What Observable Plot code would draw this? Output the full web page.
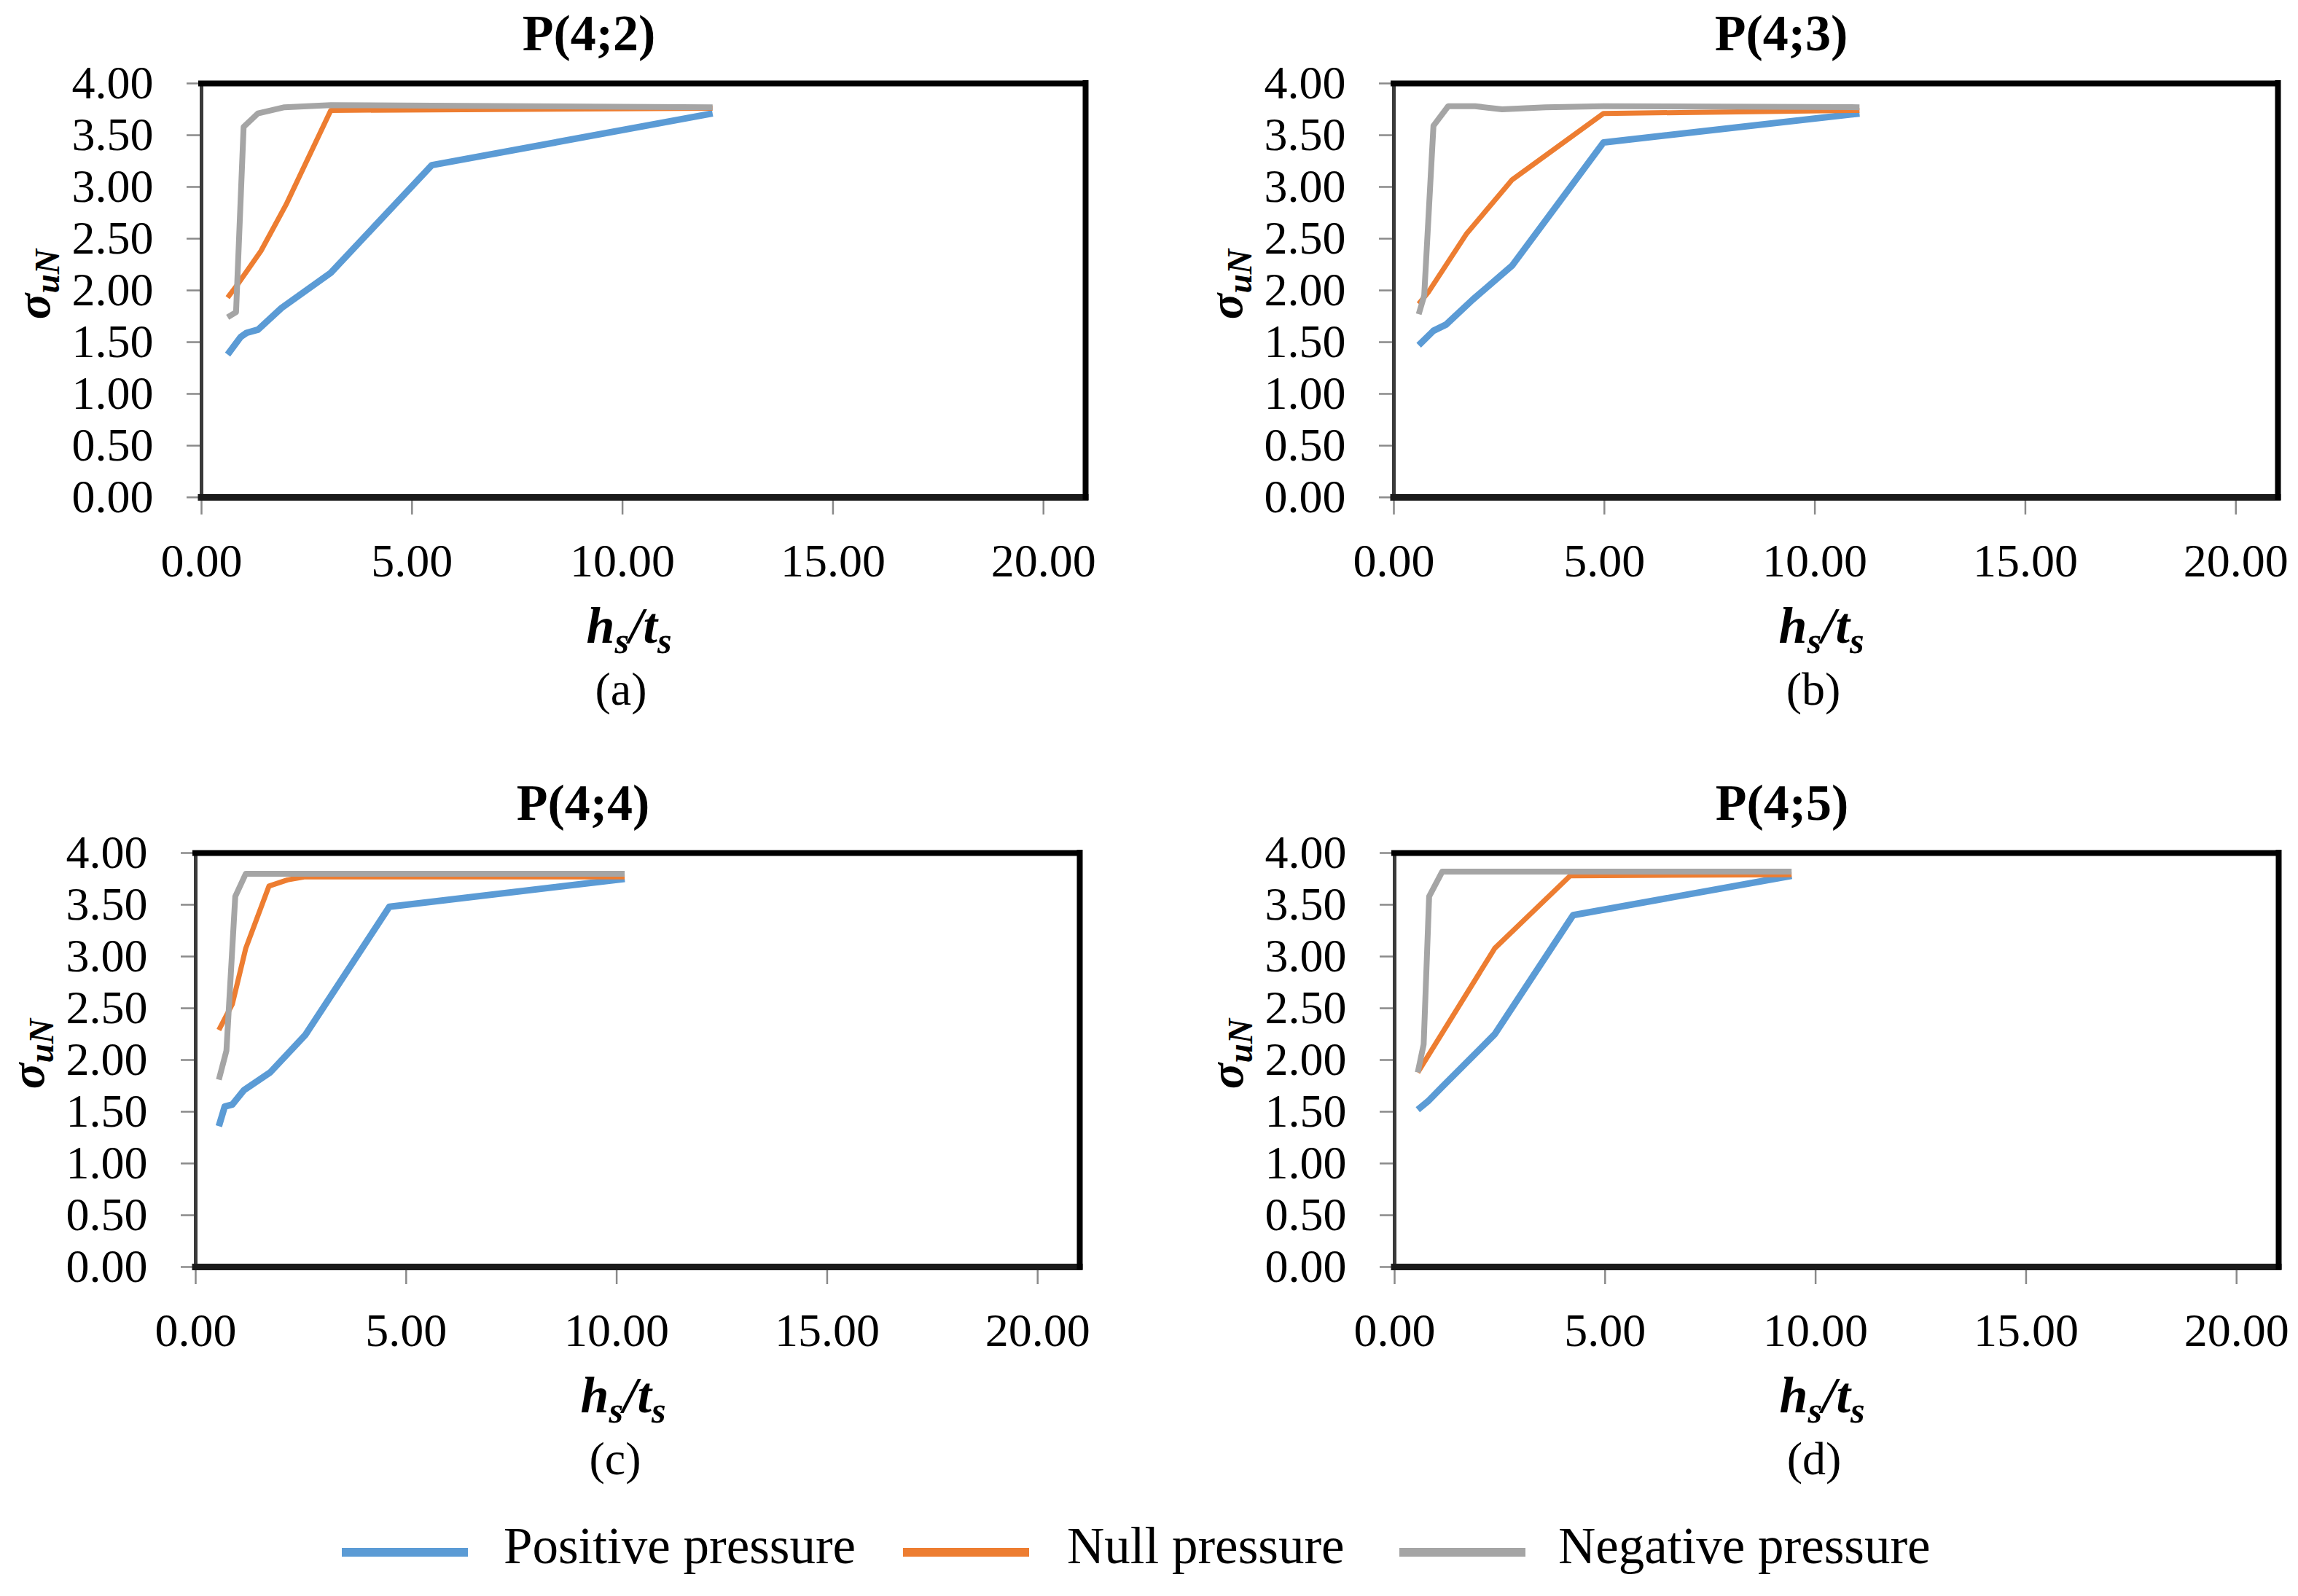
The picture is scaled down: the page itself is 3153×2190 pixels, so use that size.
<!DOCTYPE html>
<html>
<head>
<meta charset="utf-8">
<script src="https://cdn.jsdelivr.net/npm/d3@7"></script>
<script src="https://cdn.jsdelivr.net/npm/@observablehq/plot@0.6"></script>
<style>
  html, body { margin: 0; padding: 0; background: #fff; }
  #root { position: relative; width: 3153px; height: 2190px; background: #fff; overflow: hidden; font-family: "Liberation Serif", serif; color: #000; }
  #root svg text { font-family: "Liberation Serif", serif !important; }
  .abs { position: absolute; white-space: nowrap; line-height: 1; }
  .ctr { transform: translateX(-50%); }
  .title { font-weight: bold; font-size: 70px; }
  .xlab { font-weight: bold; font-style: italic; font-size: 70px; }
  .xlab sub, .ylab sub { font-size: 0.72em; vertical-align: -0.28em; line-height: 0; }
  .ylab { font-weight: bold; font-style: italic; font-size: 66px; transform: translate(-50%, -50%) rotate(-90deg); }
  .letter { font-size: 64px; }
  .legtxt { font-size: 71px; }
  .sw { position: absolute; height: 12px; }
</style>
</head>
<body>
<div id="root"></div>
<script>
// ---- data ----
const panelTitles = ["P(4;2)", "P(4;3)", "P(4;4)", "P(4;5)"];
const panelLetters = ["(a)", "(b)", "(c)", "(d)"];
const seriesNames = ["Positive pressure", "Null pressure", "Negative pressure"];
const seriesColors = ["#5B9BD5", "#ED7D31", "#A5A5A5"];
const xTicks = [0, 5, 10, 15, 20];
const yTicks = [0, 0.5, 1, 1.5, 2, 2.5, 3, 3.5, 4];

// (a) P(4;2)
const aPosX = [0.62, 0.93, 1.07, 1.34, 1.90, 3.07, 5.47, 12.14];
const aPosY = [1.38, 1.55, 1.59, 1.62, 1.83, 2.17, 3.21, 3.71];
const aNulX = [0.62, 0.86, 1.41, 2.01, 3.07, 12.14];
const aNulY = [1.93, 2.06, 2.38, 2.83, 3.74, 3.76];
const aNegX = [0.62, 0.82, 1.00, 1.34, 1.97, 3.07, 12.14];
const aNegY = [1.74, 1.79, 3.58, 3.71, 3.77, 3.79, 3.77];

// (b) P(4;3)
const bPosX = [0.59, 0.94, 1.24, 1.87, 2.81, 4.98, 11.06];
const bPosY = [1.47, 1.61, 1.67, 1.91, 2.24, 3.43, 3.71];
const bNulX = [0.59, 0.83, 1.73, 2.81, 4.98, 11.06];
const bNulY = [1.87, 1.99, 2.55, 3.07, 3.71, 3.74];
const bNegX = [0.59, 0.72, 0.94, 1.29, 1.93, 2.57, 3.60, 4.98, 11.06];
const bNegY = [1.77, 1.95, 3.59, 3.78, 3.78, 3.75, 3.77, 3.78, 3.77];

// (c) P(4;4)
const cPosX = [0.55, 0.69, 0.87, 1.15, 1.77, 2.60, 4.60, 10.19];
const cPosY = [1.36, 1.55, 1.57, 1.71, 1.88, 2.24, 3.48, 3.75];
const cNulX = [0.55, 0.87, 1.19, 1.74, 2.18, 2.60, 10.19];
const cNulY = [2.29, 2.54, 3.08, 3.68, 3.74, 3.77, 3.77];
const cNegX = [0.55, 0.73, 0.94, 1.19, 10.19];
const cNegY = [1.81, 2.09, 3.58, 3.80, 3.80];

// (d) P(4;5)
const dPosX = [0.55, 0.79, 1.13, 2.38, 4.24, 9.43];
const dPosY = [1.52, 1.60, 1.74, 2.25, 3.40, 3.78];
const dNulX = [0.55, 2.38, 4.17, 9.43];
const dNulY = [1.88, 3.08, 3.78, 3.79];
const dNegX = [0.55, 0.69, 0.82, 1.13, 9.43];
const dNegY = [1.88, 2.15, 3.58, 3.82, 3.82];

const panelSeries = [
  [[aPosX, aPosY], [aNulX, aNulY], [aNegX, aNegY]],
  [[bPosX, bPosY], [bNulX, bNulY], [bNegX, bNegY]],
  [[cPosX, cPosY], [cNulX, cNulY], [cNegX, cNegY]],
  [[dPosX, dPosY], [dNulX, dNulY], [dNegX, dNegY]]
];

// ---- layout (pixels) ----
const layout = [
  {x0: 276, yTop: 114},
  {x0: 1912, yTop: 114},
  {x0: 268, yTop: 1170},
  {x0: 1913, yTop: 1170}
];
const PW = 1213, PH = 568;
const ML = 230, MT = 30, MR = 30, MB = 160;
const lineWidths = [9, 7, 8];

const root = document.getElementById("root");
const fmt = d => d.toFixed(2);

function addDiv(cls, html, left, top) {
  const el = document.createElement("div");
  el.className = "abs " + cls;
  el.innerHTML = html;
  el.style.left = left + "px";
  el.style.top = top + "px";
  root.appendChild(el);
  return el;
}

panelSeries.forEach((ser, i) => {
  const {x0, yTop} = layout[i];
  const lineMarks = ser.map(([xs, ys], k) =>
    Plot.line(xs.map((x, j) => ({x, y: ys[j], s: seriesNames[k]})), {
      x: "x", y: "y", stroke: seriesColors[k], strokeWidth: lineWidths[k],
      strokeLinejoin: "round", strokeLinecap: "butt"
    })
  );
  const chart = Plot.plot({
    width: ML + PW + MR, height: MT + PH + MB,
    marginLeft: ML, marginTop: MT, marginRight: MR, marginBottom: MB,
    x: {domain: [0, 21]},
    y: {domain: [0, 4]},
    style: {fontFamily: "'Liberation Serif', serif", fontSize: "64px", background: "transparent", overflow: "visible", color: "black"},
    marks: [
      Plot.axisY({ticks: yTicks, tickSize: 20, tickPadding: 46, tickFormat: fmt, stroke: "#8a8a8a", strokeWidth: 2.5, fill: "black", label: null}),
      Plot.axisX({ticks: xTicks, tickSize: 24, tickPadding: 39, tickFormat: fmt, stroke: "#8a8a8a", strokeWidth: 2.5, fill: "black", label: null}),
      Plot.ruleX([0], {stroke: "#3a3a3a", strokeWidth: 5}),
      Plot.ruleY([0], {stroke: "#1a1a1a", strokeWidth: 9, strokeLinecap: "square"}),
      Plot.ruleY([4], {stroke: "#000", strokeWidth: 8, strokeLinecap: "square"}),
      Plot.ruleX([21], {stroke: "#000", strokeWidth: 8, strokeLinecap: "square"}),
      ...lineMarks
    ]
  });
  chart.style.position = "absolute";
  chart.style.left = (x0 - ML) + "px";
  chart.style.top = (yTop - MT) + "px";
  root.appendChild(chart);

  const rowOff = yTop - 114;
  addDiv("title ctr", panelTitles[i], x0 + 532, 70 + rowOff - 0.8375 * 70);
  addDiv("xlab ctr", "h<sub>s</sub>/t<sub>s</sub>", x0 + 587, 883 + rowOff - 0.8375 * 70);
  addDiv("letter ctr", panelLetters[i], x0 + 576, 968 + rowOff - 0.8375 * 64);
  addDiv("ylab", "σ<sub>uN</sub>", x0 - 230, yTop + PH / 2 - 8);
});

// ---- legend ----
const legSw = [469, 1239, 1920];
const legTx = [691, 1464, 2138];
seriesNames.forEach((name, k) => {
  const sw = document.createElement("div");
  sw.className = "sw";
  sw.style.left = legSw[k] + "px";
  sw.style.width = "173px";
  sw.style.top = (2130 - 6) + "px";
  sw.style.background = seriesColors[k];
  root.appendChild(sw);
  addDiv("legtxt", name, legTx[k], 2145 - 0.8375 * 71);
});
</script>
</body>
</html>
